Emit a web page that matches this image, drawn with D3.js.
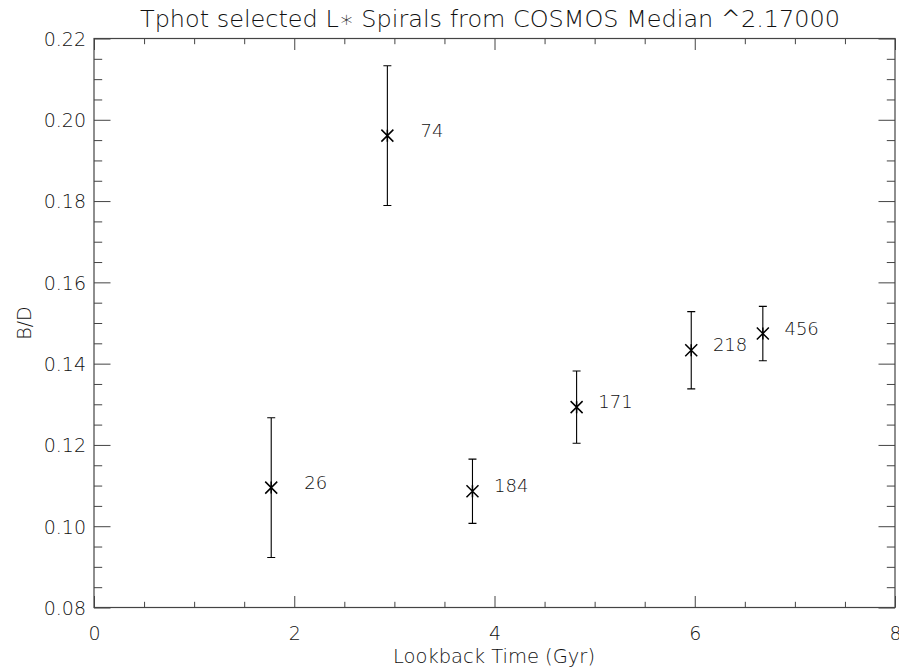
<!DOCTYPE html>
<html>
<head>
<meta charset="utf-8">
<script src="https://cdn.jsdelivr.net/npm/d3@7"></script>
<style>
  html, body { margin: 0; padding: 0; background: #fff; }
  svg { display: block; }
  text { font-family: "DejaVu Sans", sans-serif; font-weight: 200; fill: #111; }
</style>
</head>
<body>
<svg id="chart" width="899" height="668"></svg>
<script>
// ---- data ----
const lookbackTime = [1.77, 2.93, 3.78, 4.82, 5.965, 6.68];
const bdRatio      = [0.1095, 0.1961, 0.1086, 0.1293, 0.1433, 0.1474];
const bdError      = [0.0172, 0.0172, 0.0079, 0.0089, 0.0095, 0.0067];
const counts       = [26, 74, 184, 171, 218, 456];
const xMajorTicks  = [0, 2, 4, 6, 8];
const yMajorTicks  = [0.08, 0.10, 0.12, 0.14, 0.16, 0.18, 0.20, 0.22];
const titleText    = "Tphot selected L\u2217 Spirals from COSMOS Median ^2.17000";
const xTitle       = "Lookback Time (Gyr)";
const yTitle       = "B/D";

// ---- layout ----
const pLeft = 94, pRight = 895, pTop = 38.5, pBottom = 607.5;
const svg = d3.select("#chart");
const x = d3.scaleLinear().domain([0, 8]).range([pLeft, pRight]);
const y = d3.scaleLinear().domain([0.08, 0.22]).range([pBottom, pTop]);

const xMinor = d3.range(0, 8.0001, 0.5).filter(v => Math.abs(v/2 - Math.round(v/2)) > 1e-6);
const yMinor = d3.range(0.08, 0.22001, 0.005).filter(v => Math.abs(v/0.02 - Math.round(v/0.02)) > 1e-6);

const axisColor = "#444";
function styleAxis(g) {
  g.select(".domain").remove();
  g.selectAll(".tick line").attr("stroke", axisColor).attr("stroke-width", 1);
}

// bottom axis (major with labels)
const gb = svg.append("g").attr("transform", `translate(0,${pBottom})`)
  .call(d3.axisBottom(x).tickValues(xMajorTicks).tickSize(-11.5).tickFormat(d3.format("d")));
styleAxis(gb);
gb.selectAll(".tick text").attr("y", 32).attr("dy", 0).style("font-size", "19px").style("font-family", "DejaVu Sans").attr("fill", "#111");
svg.append("g").attr("transform", `translate(0,${pBottom})`)
  .call(d3.axisBottom(x).tickValues(xMinor).tickSize(-5.7).tickFormat(""))
  .call(styleAxis);

// top axis
svg.append("g").attr("transform", `translate(0,${pTop})`)
  .call(d3.axisTop(x).tickValues(xMajorTicks).tickSize(-11.5).tickFormat(""))
  .call(styleAxis);
svg.append("g").attr("transform", `translate(0,${pTop})`)
  .call(d3.axisTop(x).tickValues(xMinor).tickSize(-5.7).tickFormat(""))
  .call(styleAxis);

// left axis
const gl = svg.append("g").attr("transform", `translate(${pLeft},0)`)
  .call(d3.axisLeft(y).tickValues(yMajorTicks).tickSize(-16.5).tickFormat(d3.format(".2f")));
styleAxis(gl);
gl.selectAll(".tick text").attr("x", -8).attr("dy", "0.36em").style("font-size", "19px").style("font-family", "DejaVu Sans").attr("fill", "#111");
svg.append("g").attr("transform", `translate(${pLeft},0)`)
  .call(d3.axisLeft(y).tickValues(yMinor).tickSize(-8.2).tickFormat(""))
  .call(styleAxis);

// right axis
svg.append("g").attr("transform", `translate(${pRight},0)`)
  .call(d3.axisRight(y).tickValues(yMajorTicks).tickSize(-16.5).tickFormat(""))
  .call(styleAxis);
svg.append("g").attr("transform", `translate(${pRight},0)`)
  .call(d3.axisRight(y).tickValues(yMinor).tickSize(-8.2).tickFormat(""))
  .call(styleAxis);

// frame
svg.append("rect")
  .attr("x", pLeft).attr("y", pTop).attr("width", pRight - pLeft).attr("height", pBottom - pTop)
  .attr("fill", "none").attr("stroke", axisColor).attr("stroke-width", 1.2);

// titles
svg.append("text").attr("x", 140).attr("y", 27)
  .attr("textLength", 700).attr("lengthAdjust", "spacingAndGlyphs")
  .style("font-size", "22.5px").text(titleText);
svg.append("text").attr("x", 393).attr("y", 663)
  .attr("textLength", 202).attr("lengthAdjust", "spacingAndGlyphs")
  .style("font-size", "19px").text(xTitle);
svg.append("text").attr("transform", `translate(31,${(pTop + pBottom) / 2}) rotate(-90)`)
  .attr("text-anchor", "middle")
  .style("font-size", "19px").text(yTitle);

// data
const pts = lookbackTime.map((t, i) => ({ t, v: bdRatio[i], e: bdError[i], n: counts[i] }));
const gData = svg.append("g");
const capW = 4;
gData.selectAll(".err").data(pts).join("path")
  .attr("d", d => {
    const cx = x(d.t), y1 = y(d.v + d.e), y0 = y(d.v - d.e);
    return `M${cx},${y1}V${y0}M${cx - capW},${y1}H${cx + capW}M${cx - capW},${y0}H${cx + capW}`;
  })
  .attr("stroke", "#000").attr("stroke-width", 1.1).attr("fill", "none");

const ms = 6;
gData.selectAll(".mark").data(pts).join("path")
  .attr("d", d => {
    const cx = x(d.t), cy = y(d.v);
    return `M${cx - ms},${cy - ms}L${cx + ms},${cy + ms}M${cx - ms},${cy + ms}L${cx + ms},${cy - ms}M${cx},${cy - ms}V${cy + ms}`;
  })
  .attr("stroke", "#000").attr("stroke-width", 1.5).attr("fill", "none");

gData.selectAll(".lab").data(pts).join("text")
  .attr("x", d => x(d.t) + 56).attr("y", d => y(d.v) + 1)
  .attr("text-anchor", "end")
  .style("font-size", "18px").text(d => d.n);
</script>
</body>
</html>
